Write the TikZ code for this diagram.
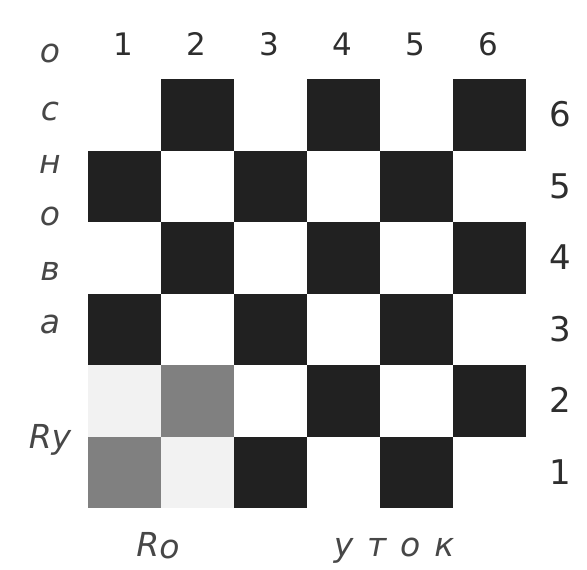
\documentclass[tikz,border=0pt]{standalone}
\usepackage{fontspec}
\setmainfont{DejaVu Sans}
\usetikzlibrary{positioning}

\begin{document}
\begin{tikzpicture}[x=1pt, y=-1pt,
  cell/.style={minimum width=73pt, minimum height=71.5pt, inner sep=0pt, outer sep=0pt},
  dark/.style={cell, fill=black!87},
  grey/.style={cell, fill=black!50},
  pale/.style={cell, fill=black!5},
  num/.style={font=\fontsize{31}{36}\selectfont, text=black!82, inner sep=0pt, anchor=base},
  rnum/.style={num, font=\fontsize{34}{40}\selectfont},
  lbl/.style={font=\fontsize{33}{38}\selectfont\itshape, text=black!72, inner sep=0pt, anchor=base}]
\useasboundingbox (0,0) rectangle (587,570);
\foreach \c/\r in {2/6,4/6,6/6,1/5,3/5,5/5,2/4,4/4,6/4,1/3,3/3,5/3,4/2,6/2,3/1,5/1}
  \node[dark] (c\c\r) at ({88+73*(\c-0.5)},{79+71.5*(6.5-\r)}) {};
\node[grey] (c11) at ({88+73*0.5},{79+71.5*5.5}) {};
\node[grey] (c22) at ({88+73*1.5},{79+71.5*4.5}) {};
\node[pale] (c12) at ({88+73*0.5},{79+71.5*4.5}) {};
\node[pale] (c21) at ({88+73*1.5},{79+71.5*5.5}) {};
\foreach \c in {1,...,6}
  \node[num] (top\c) at ({88+73*(\c-0.5)-1},56) {\c};
\foreach \r in {1,...,6}
  \node[rnum] (side\r) at (560,{79+71.5*(6.5-\r)+12}) {\r};
\foreach \t/\y [count=\k] in {о/62,с/120,н/173,о/225,в/280,а/333}
  \node[lbl] (osn\k) at (50,\y) {\t};
\node[lbl] (ry) at (50,448) {Rу};
\node[lbl] (ro) at (158,556) {R\raisebox{-2pt}{о}};
\node[lbl] (utok) at (394,556) {у\hspace{0.42em}т\hspace{0.42em}о\hspace{0.42em}к};
\end{tikzpicture}
\end{document}
